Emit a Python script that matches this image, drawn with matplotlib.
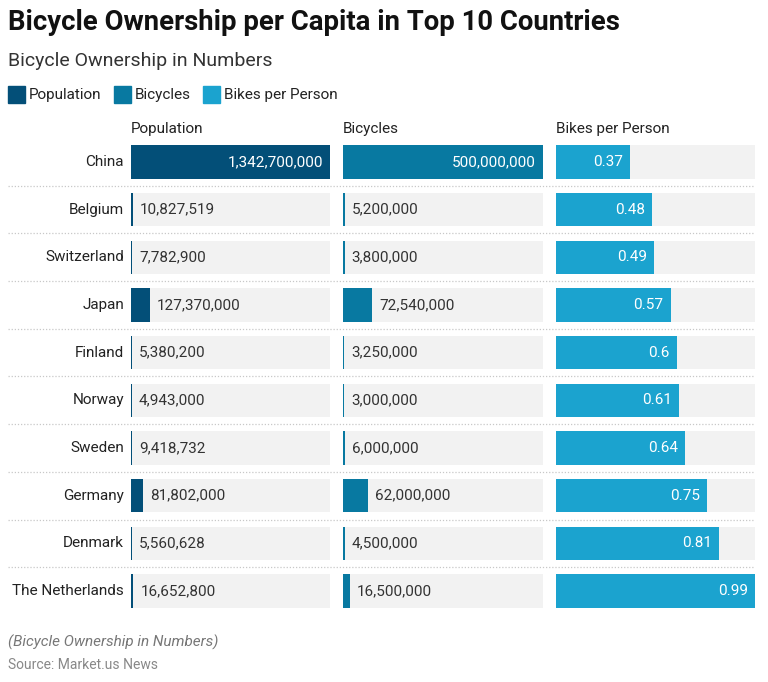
import matplotlib
matplotlib.use("Agg")
import matplotlib.pyplot as plt

plt.rcParams['font.family'] = ['Roboto', 'DejaVu Sans']

# --- data ---
countries = ["China", "Belgium", "Switzerland", "Japan", "Finland", "Norway",
             "Sweden", "Germany", "Denmark", "The Netherlands"]
population = [1342700000, 10827519, 7782900, 127370000, 5380200, 4943000,
              9418732, 81802000, 5560628, 16652800]
bicycles = [500000000, 5200000, 3800000, 72540000, 3250000, 3000000,
            6000000, 62000000, 4500000, 16500000]
bikes_per_person = [0.37, 0.48, 0.49, 0.57, 0.6, 0.61, 0.64, 0.75, 0.81, 0.99]

series = ["Population", "Bicycles", "Bikes per Person"]
colors = ["#034f78", "#0879a1", "#1ba3cf"]

W, H = 768, 682
fig = plt.figure(figsize=(W / 100, H / 100), dpi=100)

def fx(px):
    return px / W

def fy(px):
    return 1 - px / H

# title block
fig.text(fx(8), fy(22), "Bicycle Ownership per Capita in Top 10 Countries",
         fontsize=19.8, fontweight="bold", color="#111111", va="center")
fig.text(fx(8), fy(61), "Bicycle Ownership in Numbers",
         fontsize=14, color="#333333", va="center")

# legend
lx = 8
for name, c in zip(series, colors):
    fig.patches.append(plt.Rectangle((fx(lx), fy(103)), fx(17), 17 / H,
                                     transform=fig.transFigure, color=c))
    t = fig.text(fx(lx + 21), fy(95), name, fontsize=11, color="#222222", va="center")
    fig.canvas.draw()
    bb = t.get_window_extent()
    lx = bb.x1 + 12

# layout of rows
top_px, bot_px = 138, 615
n = len(countries)

# dotted separators across the full width
sep_ax = fig.add_axes([fx(8), fy(bot_px), fx(755 - 8), (bot_px - top_px) / H])
sep_ax.set_xlim(0, 1)
sep_ax.set_ylim(n - 0.5, -0.5)
for i in range(n - 1):
    sep_ax.axhline(i + 0.5, color="#c8c8c8", lw=0.9, ls=(0, (1, 1.5)))
sep_ax.axis("off")

panels = [(131, 330, population, "{:,.0f}"),
          (343, 543, bicycles, "{:,.0f}"),
          (556, 755, bikes_per_person, "{:g}")]

for k, (x0, x1, vals, fmt) in enumerate(panels):
    ax = fig.add_axes([fx(x0), fy(bot_px), fx(x1 - x0), (bot_px - top_px) / H])
    vmax = max(vals)
    ax.set_xlim(0, vmax)
    ax.set_ylim(n - 0.5, -0.5)
    ys = range(n)
    ax.barh(ys, [vmax] * n, height=0.7, color="#f2f2f2", zorder=1)
    ax.barh(ys, vals, height=0.7, color=colors[k], zorder=2)
    for i, v in enumerate(vals):
        label = fmt.format(v)
        if v / vmax > 0.3:
            ax.text(v - vmax * 0.035, i, label, ha="right", va="center",
                    fontsize=11, color="white", zorder=3)
        else:
            ax.text(v + vmax * 0.035, i, label, ha="left", va="center",
                    fontsize=11, color="#333333", zorder=3)
    # column header
    fig.text(fx(x0), fy(129), series[k], ha="left", va="center",
             fontsize=11, color="#222222")
    if k == 0:
        for i, c in enumerate(countries):
            ax.text(-7 / (x1 - x0), i, c, transform=ax.get_yaxis_transform(),
                    ha="right", va="center", fontsize=11, color="#222222")
    ax.axis("off")

# footer
fig.text(fx(8), fy(642), "(Bicycle Ownership in Numbers)", fontsize=11,
         style="italic", color="#777777", va="center")
fig.text(fx(8), fy(665), "Source: Market.us News", fontsize=10,
         color="#888888", va="center")

fig.savefig("out.png", dpi=100, facecolor="white")
